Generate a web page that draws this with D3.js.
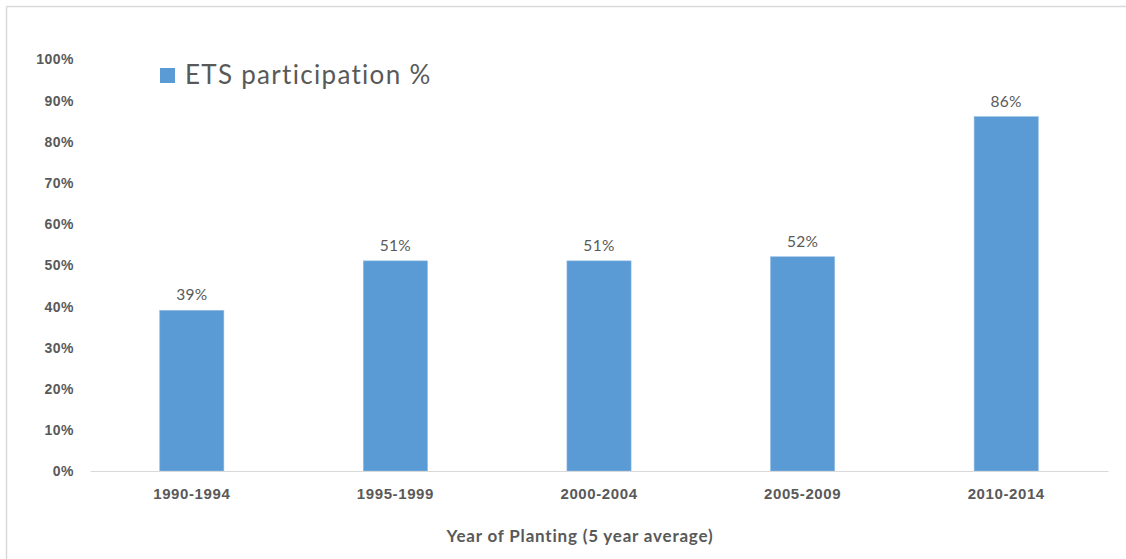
<!DOCTYPE html>
<html>
<head>
<meta charset="utf-8">
<script src="https://cdn.jsdelivr.net/npm/d3@7"></script>
<style>
  html, body { margin: 0; padding: 0; background: #fff; }
  svg { display: block; font-family: Lato, "Open Sans", sans-serif; }
</style>
</head>
<body>
<svg id="chart" width="1126" height="559"></svg>
<script>
// ETS participation by planting period
const categories = ["1990-1994", "1995-1999", "2000-2004", "2005-2009", "2010-2014"];
const participation = [39, 51, 51, 52, 86];
const yTicks = [0, 10, 20, 30, 40, 50, 60, 70, 80, 90, 100];
const seriesName = "ETS participation %";
const xTitle = "Year of Planting (5 year average)";

const svg = d3.select("#chart");
const W = 1126, H = 559;
const margin = { left: 90, right: 18, top: 58, bottom: 88 };

// outer frame (top and left edges visible)
svg.append("line").attr("x1", 6.5).attr("x2", W).attr("y1", 6.5).attr("y2", 6.5)
  .attr("stroke", "#d9d9d9").attr("stroke-width", 1.5);
svg.append("line").attr("x1", 6.5).attr("x2", 6.5).attr("y1", 6.5).attr("y2", H)
  .attr("stroke", "#d9d9d9").attr("stroke-width", 1.5);

const x = d3.scaleBand()
  .domain(categories)
  .range([margin.left, 1108])
  .paddingInner(0.685)
  .paddingOuter(0.3425);

const y = d3.scaleLinear()
  .domain([0, 100])
  .range([471, 59]);

// y axis labels (no axis line)
const yAxis = d3.axisLeft(y).tickValues(yTicks).tickFormat(d => d + "%").tickSize(0).tickPadding(0);
const gy = svg.append("g").attr("transform", "translate(74,0)").call(yAxis);
gy.select(".domain").remove();
gy.selectAll("text")
  .attr("fill", "#595959")
  .attr("font-size", 14)
  .attr("font-weight", "bold")
  .attr("letter-spacing", 0.5)
  .attr("dy", "0.35em");

// bars
svg.append("g").selectAll("rect")
  .data(participation)
  .join("rect")
  .attr("x", (d, i) => x(categories[i]))
  .attr("width", x.bandwidth())
  .attr("y", d => y(d))
  .attr("height", d => y(0) - y(d))
  .attr("fill", "#5b9bd5")
  .attr("stroke", "#8fbbe3")
  .attr("stroke-width", 0.6);

// value labels
svg.append("g").selectAll("text")
  .data(participation)
  .join("text")
  .attr("x", (d, i) => x(categories[i]) + x.bandwidth() / 2)
  .attr("y", d => y(d) - 10)
  .attr("text-anchor", "middle")
  .attr("fill", "#595959")
  .attr("font-size", 15.5)
  .attr("letter-spacing", 0.3)
  .text(d => d + "%");

// x axis baseline and labels
const xAxis = d3.axisBottom(x).tickSize(0).tickPadding(17);
const gx = svg.append("g").attr("transform", `translate(0,${y(0)})`).call(xAxis);
gx.select(".domain").attr("stroke", "#d9d9d9").attr("stroke-width", 1.2);
gx.selectAll("text")
  .attr("fill", "#595959")
  .attr("font-size", 15)
  .attr("font-weight", "bold")
  .attr("letter-spacing", 0.6);

// x axis title
svg.append("text")
  .attr("x", 580)
  .attr("y", 542)
  .attr("text-anchor", "middle")
  .attr("fill", "#595959")
  .attr("font-size", 17)
  .attr("font-weight", "bold")
  .attr("letter-spacing", 0.8)
  .text(xTitle);

// legend
const legend = svg.append("g").attr("transform", "translate(160,68)");
legend.append("rect").attr("width", 15).attr("height", 15).attr("fill", "#5b9bd5");
legend.append("text")
  .attr("x", 25)
  .attr("y", 16)
  .attr("fill", "#595959")
  .attr("font-size", 26)
  .attr("letter-spacing", 1.3)
  .text(seriesName);
</script>
</body>
</html>
